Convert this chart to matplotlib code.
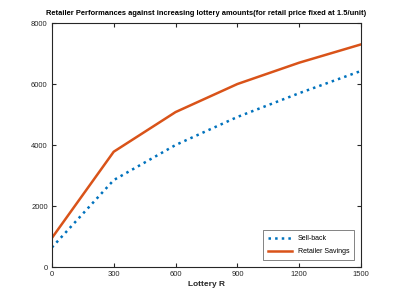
import matplotlib
matplotlib.use("Agg")
import matplotlib.pyplot as plt

lottery = [0, 300, 600, 900, 1200, 1500]
sell_back = [640, 2850, 4000, 4920, 5700, 6430]
retailer_savings = [950, 3780, 5080, 6000, 6700, 7300]
xticks = [0, 300, 600, 900, 1200, 1500]
yticks = [0, 2000, 4000, 6000, 8000]

plt.rcParams['font.family'] = ['Liberation Sans', 'DejaVu Sans']

fig = plt.figure(figsize=(3.99, 2.99), dpi=100)
ax = fig.add_axes([0.13, 0.107, 0.775, 0.816])
ax.plot(lottery, sell_back, linestyle=':', color='#0072BD', linewidth=1.8, label='Sell-back')
ax.plot(lottery, retailer_savings, linestyle='-', color='#D95319', linewidth=1.8, label='Retailer Savings')
ax.set_xlim(0, 1500)
ax.set_ylim(0, 8000)
ax.set_xticks(xticks)
ax.set_yticks(yticks)
ax.tick_params(direction='in', length=3, width=0.8, labelsize=5.5, top=True, right=True, colors='#262626', pad=3)
for s in ax.spines.values():
    s.set_linewidth(0.8)
    s.set_color('#262626')
ax.set_xlabel('Lottery R', fontsize=6, fontweight='bold', labelpad=2, color='#262626')
ax.set_title('Retailer Performances against increasing lottery amounts(for retail price fixed at 1.5/unit)',
             fontsize=5.4, fontweight='bold', pad=6)
leg = ax.legend(loc='lower right', fontsize=5, frameon=True, fancybox=False, edgecolor='#262626',
                handlelength=3.5, borderaxespad=1.0, borderpad=0.7, labelspacing=0.9)
leg.get_frame().set_linewidth(0.5)
fig.savefig('out.png', dpi=100)
